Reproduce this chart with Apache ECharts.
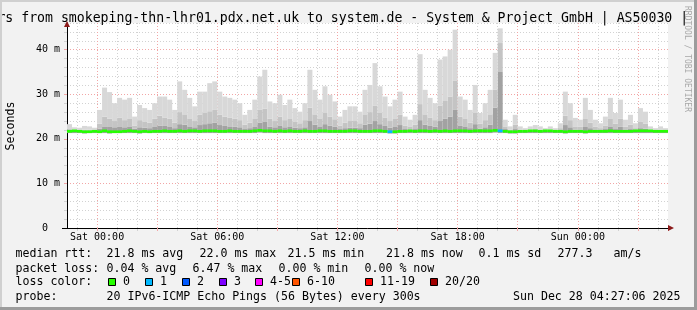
<!DOCTYPE html>
<html>
<head>
<meta charset="utf-8">
<script src="https://cdn.jsdelivr.net/npm/echarts@6/dist/echarts.min.js"></script>
<style>
html, body { margin: 0; padding: 0; background: #f2f2f2; }
#main { width: 697px; height: 310px; }
</style>
</head>
<body>
<div id="main"></div>
<script>
// 15 minute bins, Fri 22:30 .. Sun 04:30 (120 bins), values in ms
var pingTop = [
	23.3, 22.6, 22.5, 22.9, 22.8, 22.5, 26.5, 31.5, 30.5, 28.0,
	29.2, 28.8, 29.2, 25.0, 27.6, 26.9, 26.5, 28.0, 29.5, 29.5,
	28.8, 26.5, 32.9, 31.0, 29.2, 27.3, 30.6, 30.6, 32.5, 32.9,
	30.6, 29.5, 29.2, 28.8, 28.0, 25.4, 26.5, 28.8, 34.0, 35.5,
	28.4, 28.0, 29.9, 27.6, 28.8, 26.9, 26.1, 28.0, 35.5, 31.0,
	28.8, 31.8, 29.9, 28.4, 25.0, 26.5, 27.3, 27.3, 26.1, 31.0,
	32.1, 37.0, 31.8, 29.5, 27.3, 28.8, 30.6, 25.0, 24.3, 25.4,
	39.0, 31.0, 29.2, 28.0, 37.8, 38.5, 40.0, 44.5, 29.5, 28.8,
	26.5, 32.1, 25.8, 28.0, 31.0, 39.3, 44.8, 24.3, 22.8, 25.4,
	22.8, 22.4, 22.8, 23.1, 22.8, 22.4, 22.8, 22.4, 23.5, 30.6,
	28.0, 24.7, 24.3, 29.2, 26.5, 24.3, 23.5, 25.0, 29.2, 25.8,
	28.8, 24.3, 25.4, 23.5, 26.9, 26.1, 22.8, 22.4, 22.8, 22.4
];
var pingMid = [
	22.2, 22.0, 22.0, 22.1, 22.1, 22.0, 23.4, 25.0, 24.5, 24.0,
	24.8, 24.2, 24.6, 23.0, 24.2, 23.8, 23.6, 24.5, 25.2, 24.8,
	24.5, 23.6, 26.0, 25.5, 24.6, 24.0, 25.4, 25.8, 26.2, 26.5,
	25.4, 25.0, 24.8, 24.5, 24.2, 23.2, 23.6, 24.6, 26.5, 26.8,
	24.5, 24.0, 25.0, 24.2, 24.6, 23.8, 23.5, 24.2, 27.0, 25.5,
	24.6, 25.8, 25.0, 24.4, 23.0, 23.6, 24.0, 24.0, 23.5, 25.5,
	26.0, 27.5, 25.8, 24.8, 24.0, 24.6, 25.4, 23.0, 22.8, 23.2,
	27.8, 25.5, 24.8, 24.2, 27.5, 28.5, 29.5, 33.0, 25.0, 24.6,
	23.6, 25.8, 23.4, 24.2, 25.5, 31.0, 41.5, 22.8, 22.1, 23.2,
	22.1, 22.0, 22.1, 22.2, 22.1, 22.0, 22.1, 22.0, 22.4, 25.2,
	24.2, 22.8, 22.7, 24.6, 23.6, 22.7, 22.4, 23.0, 24.6, 23.4,
	24.5, 22.7, 23.2, 22.4, 23.8, 23.4, 22.1, 22.0, 22.1, 22.0
];
var pingDark = [
	21.9, 21.8, 21.8, 21.9, 21.9, 21.8, 22.3, 22.8, 22.8, 22.6,
	22.8, 22.6, 22.8, 22.3, 22.6, 22.5, 22.4, 22.8, 23.0, 22.9,
	22.8, 22.4, 23.3, 23.2, 22.8, 22.6, 23.1, 23.3, 23.5, 23.6,
	23.1, 22.9, 22.8, 22.7, 22.6, 22.2, 22.4, 22.8, 23.6, 23.8,
	22.7, 22.6, 22.9, 22.6, 22.8, 22.5, 22.4, 22.6, 24.0, 23.2,
	22.8, 23.3, 23.0, 22.7, 22.2, 22.4, 22.5, 22.5, 22.4, 23.2,
	23.4, 24.0, 23.3, 22.9, 22.5, 22.8, 23.1, 22.2, 22.0, 22.2,
	24.2, 23.2, 22.9, 22.7, 24.0, 24.5, 25.0, 26.5, 22.9, 22.8,
	22.4, 23.3, 22.3, 22.6, 23.2, 27.0, 35.0, 22.2, 21.9, 22.2,
	21.9, 21.8, 21.9, 21.9, 21.9, 21.8, 21.9, 21.8, 22.0, 23.1,
	22.6, 22.1, 22.0, 22.8, 22.4, 22.0, 22.0, 22.2, 22.8, 22.2,
	22.7, 22.0, 22.2, 22.0, 22.4, 22.3, 21.9, 21.8, 21.9, 21.8
];
var pingMin = [
	21.3, 21.3, 21.3, 21.2, 21.3, 21.3, 21.3, 21.3, 21.2, 21.3,
	21.3, 21.3, 21.3, 21.3, 21.2, 21.3, 21.3, 21.3, 21.3, 21.3,
	21.3, 21.3, 21.3, 21.3, 21.3, 21.3, 21.3, 21.3, 21.3, 21.3,
	21.3, 21.3, 21.3, 21.3, 21.3, 21.3, 21.3, 21.3, 21.4, 21.3,
	21.3, 21.3, 21.3, 21.3, 21.3, 21.3, 21.3, 21.3, 21.3, 21.3,
	21.3, 21.3, 21.3, 21.3, 21.3, 21.3, 21.3, 21.3, 21.3, 21.3,
	21.3, 21.3, 21.3, 21.3, 21.2, 21.2, 21.3, 21.3, 21.3, 21.3,
	21.3, 21.3, 21.3, 21.3, 21.3, 21.3, 21.3, 21.3, 21.3, 21.3,
	21.3, 21.3, 21.3, 21.3, 21.3, 21.4, 21.3, 21.3, 21.2, 21.2,
	21.3, 21.3, 21.3, 21.3, 21.3, 21.3, 21.3, 21.3, 21.3, 21.2,
	21.3, 21.3, 21.3, 21.2, 21.3, 21.3, 21.3, 21.3, 21.3, 21.3,
	21.3, 21.3, 21.3, 21.3, 21.3, 21.3, 21.3, 21.3, 21.3, 21.3
];
var median = [
	21.7, 21.8, 21.7, 21.6, 21.6, 21.7, 21.6, 21.8, 21.6, 21.6,
	21.6, 21.7, 21.8, 21.7, 21.6, 21.7, 21.6, 21.7, 21.7, 21.8,
	21.7, 21.7, 21.8, 21.7, 21.8, 21.8, 21.7, 21.8, 21.8, 21.8,
	21.7, 21.7, 21.8, 21.7, 21.7, 21.7, 21.7, 21.8, 21.9, 21.8,
	21.8, 21.7, 21.8, 21.7, 21.8, 21.7, 21.7, 21.8, 21.7, 21.7,
	21.8, 21.8, 21.7, 21.7, 21.7, 21.7, 21.8, 21.8, 21.7, 21.7,
	21.7, 21.8, 21.8, 21.7, 21.6, 21.6, 21.7, 21.7, 21.8, 21.7,
	21.8, 21.8, 21.7, 21.8, 21.7, 21.8, 21.7, 21.8, 21.8, 21.8,
	21.7, 21.8, 21.8, 21.8, 21.8, 21.9, 21.8, 21.7, 21.6, 21.6,
	21.7, 21.7, 21.8, 21.8, 21.7, 21.8, 21.8, 21.7, 21.7, 21.6,
	21.7, 21.7, 21.7, 21.6, 21.7, 21.7, 21.7, 21.7, 21.8, 21.7,
	21.7, 21.7, 21.7, 21.8, 21.8, 21.8, 21.8, 21.7, 21.7, 21.7
];
// bins that lost pings (out of 20)
var lossBins = [64, 86];
var lossCounts = [1, 1];

var tickBins = [6, 30, 54, 78, 102];
var tickLabels = ['Sat 00:00', 'Sat 06:00', 'Sat 12:00', 'Sat 18:00', 'Sun 00:00'];
var lossLabels = ['0', '1', '2', '3', '4-5', '6-10', '11-19', '20/20'];
var lossLimits = [0, 1, 2, 3, 5, 10, 19, 20];
var lossColors = ['#26ff00', '#00b8ff', '#0059ff', '#7e00ff', '#ff00ff', '#ff5500', '#ff0000', '#a10000'];

var MONO = '"DejaVu Sans Mono", monospace';
var RED_GRID = '#f2a6a6';
var GRAY_GRID = '#d2d2d2';

var bins = [];
for (var i = 0; i < pingTop.length; i++) bins.push(String(i));

function diff(a, b) {
	return a.map(function (v, i) { return +(v - b[i]).toFixed(2); });
}
function lossColor(n) {
	for (var i = 0; i < lossLimits.length; i++) {
		if (n <= lossLimits[i]) return lossColors[i];
	}
	return lossColors[lossColors.length - 1];
}
// 1 hour = 4 bins, bin 6 = Sat 00:00
function isMajor(i) { return i >= 0 && (i + 6) % 12 === 0; }
function isMinor(i) { return (i + 2) % 4 === 0 && (i + 6) % 12 !== 0; }

var medianData = median.map(function (v, i) {
	var j = lossBins.indexOf(i);
	var n = j >= 0 ? lossCounts[j] : 0;
	return { value: 0.6, itemStyle: { color: lossColor(n) } };
});

function bar(name, stack, data, color, z) {
	return {
		name: name, type: 'bar', stack: stack, data: data,
		barWidth: '100%', barGap: '-100%', silent: true, z: z,
		itemStyle: { color: color }
	};
}

function txt(s, x, y, size, extra) {
	var st = { text: s, font: size + 'px ' + MONO, fill: '#000', verticalAlign: 'middle', align: 'left' };
	for (var k in extra) st[k] = extra[k];
	return { type: 'text', x: x, y: y, z: 10, style: st };
}

var graphics = [
	{ type: 'rect', shape: { x: 0, y: 0, width: 697, height: 2 }, style: { fill: '#d0d0d0' }, z: 20 },
	{ type: 'rect', shape: { x: 0, y: 0, width: 2, height: 310 }, style: { fill: '#d0d0d0' }, z: 20 },
	{ type: 'rect', shape: { x: 0, y: 307, width: 697, height: 3 }, style: { fill: '#9c9c9c' }, z: 21 },
	{ type: 'rect', shape: { x: 694, y: 0, width: 3, height: 310 }, style: { fill: '#9c9c9c' }, z: 21 },
	txt('rs from smokeping-thn-lhr01.pdx.net.uk to system.de - System & Project GmbH | AS50030 |', -2.6, 18.5, 13.2),
	{ type: 'text', x: 687.5, y: 6, rotation: -Math.PI / 2, z: 11,
	  style: { text: 'RRDTOOL / TOBI OETIKER', font: '8px ' + MONO, fill: '#a8a8a8', align: 'left', verticalAlign: 'middle' } },
	{ type: 'text', x: 11, y: 126, rotation: Math.PI / 2, z: 10,
	  style: { text: 'Seconds', font: '11.6px ' + MONO, fill: '#000', align: 'center', verticalAlign: 'middle' } },
	// axis overhang and arrows
	{ type: 'line', shape: { x1: 62, y1: 228.5, x2: 67, y2: 228.5 }, style: { stroke: '#000', lineWidth: 1 }, z: 12 },
	{ type: 'polygon', shape: { points: [[668, 225], [674, 228], [668, 231]] }, style: { fill: '#8b1a1a' }, z: 12 },
	{ type: 'polygon', shape: { points: [[64, 27], [67, 21], [70, 27]] }, style: { fill: '#8b1a1a' }, z: 12 },
	// legend
	txt('median rtt:', 15.5, 254, 11.6),
	txt('21.8 ms avg', 106.5, 254, 11.6),
	txt('22.0 ms max', 199.5, 254, 11.6),
	txt('21.5 ms min', 287.5, 254, 11.6),
	txt('21.8 ms now', 386, 254, 11.6),
	txt('0.1 ms sd', 478.5, 254, 11.6),
	txt('277.3', 557.5, 254, 11.6),
	txt('am/s', 613.5, 254, 11.6),
	txt('packet loss:', 15.5, 268.5, 11.6),
	txt('0.04 % avg', 106.5, 268.5, 11.6),
	txt('6.47 % max', 192.5, 268.5, 11.6),
	txt('0.00 % min', 278.5, 268.5, 11.6),
	txt('0.00 % now', 364.5, 268.5, 11.6),
	txt('loss color:', 15.5, 282, 11.6),
	txt('probe:', 15.5, 296.7, 11.6),
	txt('20 IPv6-ICMP Echo Pings (56 Bytes) every 300s', 106.5, 296.7, 11.6),
	txt('Sun Dec 28 04:27:06 2025', 680.5, 296.7, 11.6, { align: 'right' })
];
var boxX = [108.5, 145.5, 182.5, 219.5, 255.5, 292.5, 365.5, 430.5];
for (var b = 0; b < lossLabels.length; b++) {
	graphics.push({ type: 'rect', shape: { x: boxX[b], y: 278.5, width: 7, height: 7 },
		style: { fill: lossColors[b], stroke: '#000', lineWidth: 1 }, z: 10 });
	graphics.push(txt(lossLabels[b], boxX[b] + 14.5, 282, 11.6));
}

var myChart = echarts.init(document.getElementById('main'), null, { renderer: 'canvas' });
var option = {
	backgroundColor: '#f2f2f2',
	animation: false,
	grid: {
		left: 67, right: 29, top: 23, bottom: 82,
		containLabel: false, outerBoundsMode: 'none',
		show: true, backgroundColor: '#ffffff', borderWidth: 0
	},
	xAxis: [{
		type: 'category', data: bins, boundaryGap: true, position: 'bottom', z: 1,
		axisLine: { show: true, lineStyle: { color: '#000', width: 1 } },
		axisTick: { show: true, length: 3, interval: isMajor, lineStyle: { color: RED_GRID } },
		axisLabel: {
			interval: function (i) { return tickBins.indexOf(i) >= 0; },
			formatter: function (v, i) {
				var j = tickBins.indexOf(+v);
				return j >= 0 ? tickLabels[j] : '';
			},
			fontFamily: MONO, fontSize: 10, color: '#000', margin: 4, padding: [0, 5, 0, 0]
		},
		splitLine: { show: true, interval: isMajor, showMaxLine: false, lineStyle: { color: RED_GRID, type: [1, 2] } }
	}, {
		type: 'category', data: bins, boundaryGap: true, position: 'bottom', z: 0,
		axisLine: { show: false },
		axisTick: { show: true, length: 3, interval: isMinor, lineStyle: { color: GRAY_GRID } },
		axisLabel: { show: false },
		splitLine: { show: true, interval: isMinor, showMaxLine: false, lineStyle: { color: GRAY_GRID, type: [1, 2] } }
	}],
	yAxis: [{
		type: 'value', min: 0, max: 46, interval: 10, position: 'left', z: 1,
		axisLine: { show: true, lineStyle: { color: '#000', width: 1 } },
		axisTick: { show: true, length: 3, lineStyle: { color: RED_GRID } },
		axisLabel: {
			showMaxLabel: false, fontFamily: MONO, fontSize: 10, color: '#000', margin: 7,
			formatter: function (v) { return v === 0 ? '0  ' : v + ' m'; }
		},
		splitLine: { show: true, showMaxLine: false, lineStyle: { color: RED_GRID, type: [1, 2] } }
	}, {
		type: 'value', min: 0, max: 46, interval: 2, position: 'left', z: 0,
		axisLine: { show: false },
		axisTick: { show: true, length: 3, lineStyle: { color: GRAY_GRID } },
		axisLabel: { show: false },
		splitLine: { show: true, lineStyle: { color: GRAY_GRID, type: [1, 2] } }
	}],
	graphic: graphics,
	series: [
		bar('floor', 'smoke', pingMin, 'rgba(0,0,0,0)', 2),
		bar('dark', 'smoke', diff(pingDark, pingMin), '#a2a2a2', 2),
		bar('mid', 'smoke', diff(pingMid, pingDark), '#c4c4c4', 2),
		bar('light', 'smoke', diff(pingTop, pingMid), '#d8d8d8', 2),
		bar('medBase', 'med', median.map(function (v) { return +(v - 0.3).toFixed(2); }), 'rgba(0,0,0,0)', 3),
		bar('median', 'med', medianData, '#26ff00', 3)
	]
};
myChart.setOption(option);
</script>
</body>
</html>
